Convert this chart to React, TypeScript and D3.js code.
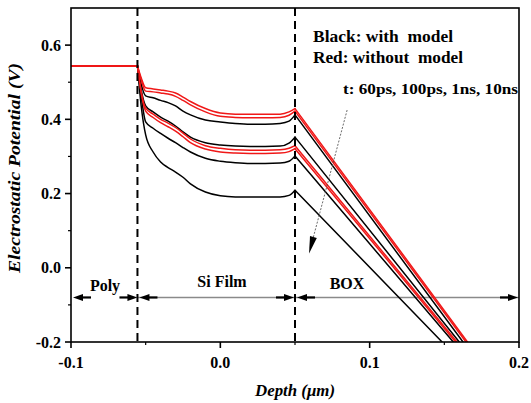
import React from "react";
import * as d3 from "d3";

// depth grid inside the Si film (um)
const siDepth = [-0.0555, -0.053, -0.05, -0.045, -0.04, -0.035, -0.03, -0.025, -0.02, -0.01, 0.0, 0.01, 0.02, 0.03, 0.04, 0.046, 0.05];
const polyDepth = [-0.1, -0.0555];
const polyPotential = 0.544;

// black: with model (t = 60ps, 100ps, 1ns, 10ns)
const black60ps = [0.544, 0.436, 0.358, 0.312, 0.285, 0.27, 0.258, 0.244, 0.226, 0.204, 0.194, 0.191, 0.191, 0.191, 0.191, 0.195, 0.209];
const black100ps = [0.544, 0.463, 0.393, 0.376, 0.362, 0.349, 0.337, 0.324, 0.312, 0.295, 0.287, 0.283, 0.281, 0.281, 0.282, 0.287, 0.301];
const black1ns = [0.544, 0.479, 0.436, 0.42, 0.406, 0.395, 0.382, 0.366, 0.352, 0.337, 0.331, 0.328, 0.327, 0.327, 0.328, 0.336, 0.352];
const black10ns = [0.544, 0.495, 0.463, 0.458, 0.451, 0.445, 0.436, 0.422, 0.412, 0.398, 0.393, 0.389, 0.387, 0.387, 0.389, 0.395, 0.412];

// red: without model
const red60ps = [0.544, 0.474, 0.43, 0.414, 0.4, 0.39, 0.378, 0.363, 0.347, 0.329, 0.322, 0.318, 0.317, 0.317, 0.318, 0.322, 0.329];
const red100ps = [0.544, 0.471, 0.422, 0.405, 0.391, 0.38, 0.368, 0.353, 0.337, 0.32, 0.312, 0.309, 0.308, 0.308, 0.309, 0.313, 0.321];
const red1ns = [0.544, 0.512, 0.485, 0.482, 0.479, 0.476, 0.471, 0.46, 0.448, 0.429, 0.417, 0.414, 0.414, 0.414, 0.414, 0.42, 0.429];
const red10ns = [0.544, 0.506, 0.476, 0.474, 0.471, 0.468, 0.462, 0.451, 0.439, 0.42, 0.408, 0.405, 0.404, 0.404, 0.405, 0.411, 0.422];

// depth where each curve reaches -0.2 V inside the BOX
const blackBoxEnd = [0.1485, 0.156, 0.16, 0.1625];
const redBoxEnd = [0.1585, 0.1575, 0.1655, 0.1645];

const xTicks = [-0.1, 0.0, 0.1, 0.2];
const xMinor = [-0.05, 0.05, 0.15];
const yTicks = [-0.2, 0.0, 0.2, 0.4, 0.6];
const yMinor = [-0.1, 0.1, 0.3, 0.5];
const filmEdges = [-0.0555, 0.05];

const W = 531, H = 403;
const FONT = "Liberation Serif, serif";

export default function App() {
  const x = d3.scaleLinear().domain([-0.1, 0.2]).range([71, 519]);
  const y = d3.scaleLinear().domain([-0.2, 0.7]).range([342, 8]);

  const lin = d3.line<[number, number]>().x(d => x(d[0])).y(d => y(d[1]));
  const mono = d3.line<[number, number]>().x(d => x(d[0])).y(d => y(d[1])).curve(d3.curveMonotoneX);

  const series = [
    ...[black60ps, black100ps, black1ns, black10ns].map((v, i) => ({ v, end: blackBoxEnd[i], color: "#000" })),
    ...[red60ps, red100ps, red1ns, red10ns].map((v, i) => ({ v, end: redBoxEnd[i], color: "#f01818" })),
  ];

  const dimY = y(-0.08);

  // little black arrow head at (tx, dimY) pointing dir (-1 left, +1 right)
  const dimArrow = (tx: number, dir: number, key: string) => (
    <g key={key}>
      <path d={`M${tx},${dimY} L${tx - dir * 10},${dimY - 3.5} L${tx - dir * 10},${dimY + 3.5} Z`} fill="#000" />
      <line x1={tx - dir * 9} x2={tx - dir * 18} y1={dimY} y2={dimY} stroke="#000" strokeWidth={2.2} />
    </g>
  );

  // dotted annotation arrow
  const a0 = [x(0.0849), y(0.425)];
  const a1 = [x(0.0594), y(0.0386)];
  const ang = Math.atan2(a1[1] - a0[1], a1[0] - a0[0]);
  const hl = 17, hw = 3.5;
  const hx = a1[0] - hl * Math.cos(ang), hy = a1[1] - hl * Math.sin(ang);
  const head = `M${a1[0]},${a1[1]} L${hx + hw * Math.sin(ang)},${hy - hw * Math.cos(ang)} L${hx - hw * Math.sin(ang)},${hy + hw * Math.cos(ang)} Z`;

  const txt = { fontFamily: FONT, fontWeight: 700 } as React.CSSProperties;

  return (
    <svg width={W} height={H} style={{ position: "absolute", left: 0, top: 0, background: "#fff" }}>
      <defs>
        <clipPath id="plot">
          <rect x={71} y={8} width={448} height={334} />
        </clipPath>
      </defs>

      {/* dimension lines */}
      <line x1={x(-0.0555)} x2={x(0.05)} y1={dimY} y2={dimY} stroke="#8a8a8a" strokeWidth={1.5} />
      <line x1={x(0.05)} x2={x(0.2)} y1={dimY} y2={dimY} stroke="#8a8a8a" strokeWidth={1.5} />
      {dimArrow(x(-0.1) + 2, -1, "p0")}
      {dimArrow(x(-0.0555), 1, "p1")}
      {dimArrow(x(-0.0555) + 2, -1, "s0")}
      {dimArrow(x(0.05) - 1, 1, "s1")}
      {dimArrow(x(0.05) + 2, -1, "b0")}
      {dimArrow(x(0.2) - 1, 1, "b1")}
      <text x={105} y={291} fontSize={16} textAnchor="middle" style={txt}>Poly</text>
      <text x={222} y={287} fontSize={16} textAnchor="middle" style={txt}>Si Film</text>
      <text x={347} y={289} fontSize={16} textAnchor="middle" style={txt}>BOX</text>

      {/* curves */}
      <g clipPath="url(#plot)" fill="none" strokeLinejoin="round" strokeLinecap="round">
        {series.map((s, i) => {
          const si = siDepth.map((d, j) => [d, s.v[j]] as [number, number]);
          const poly = polyDepth.map(d => [d, polyPotential] as [number, number]);
          const box: [number, number][] = [[0.05, s.v[s.v.length - 1]], [s.end, -0.2]];
          return (
            <g key={i} stroke={s.color} strokeWidth={1.5}>
              <path d={lin(poly) || ""} />
              <path d={mono(si) || ""} />
              <path d={lin(box) || ""} />
            </g>
          );
        })}
      </g>

      {/* film boundaries */}
      {filmEdges.map(d => (
        <line key={d} x1={x(d)} x2={x(d)} y1={8} y2={342} stroke="#000" strokeWidth={2} strokeDasharray="8 5" />
      ))}

      {/* annotation arrow */}
      <line x1={a0[0]} y1={a0[1]} x2={hx} y2={hy} stroke="#444" strokeWidth={0.8} strokeDasharray="2 1.5" />
      <path d={head} fill="#000" />

      {/* legend text */}
      <text x={313} y={42} fontSize={17} textLength={140} lengthAdjust="spacingAndGlyphs" style={{ ...txt, whiteSpace: "pre" }}>Black: with  model</text>
      <text x={313} y={63} fontSize={17} textLength={150} lengthAdjust="spacingAndGlyphs" style={{ ...txt, whiteSpace: "pre" }}>Red: without  model</text>
      <text x={343} y={94} fontSize={15.5} textLength={175} lengthAdjust="spacingAndGlyphs" style={txt}>t: 60ps, 100ps, 1ns, 10ns</text>

      {/* frame */}
      <rect x={71} y={8} width={448} height={334} fill="none" stroke="#000" strokeWidth={1.6} />

      {/* axes ticks */}
      {yTicks.map(t => (
        <g key={"y" + t}>
          <line x1={65} x2={71} y1={y(t)} y2={y(t)} stroke="#000" strokeWidth={1.6} />
          <text x={61} y={y(t)} dy="0.35em" fontSize={16} textAnchor="end" style={txt}>{t.toFixed(1)}</text>
        </g>
      ))}
      {yMinor.map(t => (
        <line key={"ym" + t} x1={68} x2={71} y1={y(t)} y2={y(t)} stroke="#000" strokeWidth={1.2} />
      ))}
      {xTicks.map(t => (
        <g key={"x" + t}>
          <line x1={x(t)} x2={x(t)} y1={342} y2={348} stroke="#000" strokeWidth={1.6} />
          <text x={x(t)} y={368} fontSize={16} textAnchor="middle" style={txt}>{t.toFixed(1)}</text>
        </g>
      ))}
      {xMinor.map(t => (
        <line key={"xm" + t} x1={x(t)} x2={x(t)} y1={342} y2={345} stroke="#000" strokeWidth={1.2} />
      ))}

      {/* axis titles */}
      <text transform="translate(20,168) rotate(-90)" fontSize={16.5} fontStyle="italic" textAnchor="middle" textLength={210} lengthAdjust="spacingAndGlyphs" style={txt}>
        Electrostatic Potential (V)
      </text>
      <text x={295} y={396} fontSize={16} fontStyle="italic" textAnchor="middle" textLength={80} lengthAdjust="spacingAndGlyphs" style={txt}>Depth (μm)</text>
    </svg>
  );
}
